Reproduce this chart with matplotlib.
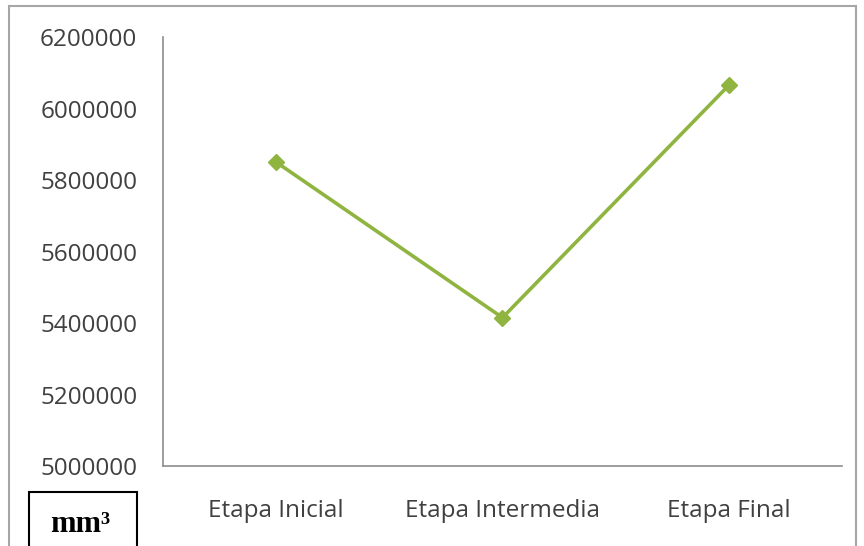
import matplotlib.pyplot as plt
from matplotlib.patches import Rectangle

# data
stages = ["Etapa Inicial", "Etapa Intermedia", "Etapa Final"]
volume = [5850000, 5415000, 6065000]
yticks = [5000000, 5200000, 5400000, 5600000, 5800000, 6000000, 6200000]

W, H = 864, 546
fig = plt.figure(figsize=(W / 100, H / 100), dpi=100)

# outer frame
fig.add_artist(Rectangle((9 / W, -0.01), (856 - 9) / W, 1 - 6 / H + 0.01,
                         transform=fig.transFigure, fill=False,
                         edgecolor="#a6a6a6", linewidth=1.5))

ax = fig.add_axes([163 / W, 1 - 466 / H, (842 - 163) / W, (466 - 37) / H])
ax.plot(range(len(stages)), volume, color="#8fb440", linewidth=2.6,
        marker="D", markersize=8, markerfacecolor="#8fb440",
        markeredgecolor="#8fb440")

ax.set_xlim(-0.5, len(stages) - 0.5)
ax.set_ylim(yticks[0], yticks[-1])
ax.set_yticks(yticks)
ax.set_yticklabels([str(v) for v in yticks])
ax.set_xticks(range(len(stages)))
ax.set_xticklabels(stages)

for s in ["top", "right"]:
    ax.spines[s].set_visible(False)
for s in ["left", "bottom"]:
    ax.spines[s].set_color("#8c8c8c")
    ax.spines[s].set_linewidth(1.2)

ax.tick_params(axis="both", length=0, labelsize=17.5, labelcolor="#404040")
ax.tick_params(axis="y", pad=18.5)
ax.tick_params(axis="x", pad=23.5)
for lab in ax.get_xticklabels() + ax.get_yticklabels():
    lab.set_fontfamily("Open Sans")

# unit box in the lower left
fig.add_artist(Rectangle((29 / W, -0.01), (137 - 29) / W, 1 - 492 / H + 0.01,
                         transform=fig.transFigure, fill=False,
                         edgecolor="black", linewidth=1.5))
fig.text(80 / W, 1 - 524 / H, "mm³", ha="center", va="center",
         fontsize=22, fontweight="bold", fontfamily="Liberation Serif")

fig.savefig("out.png", dpi=100)
